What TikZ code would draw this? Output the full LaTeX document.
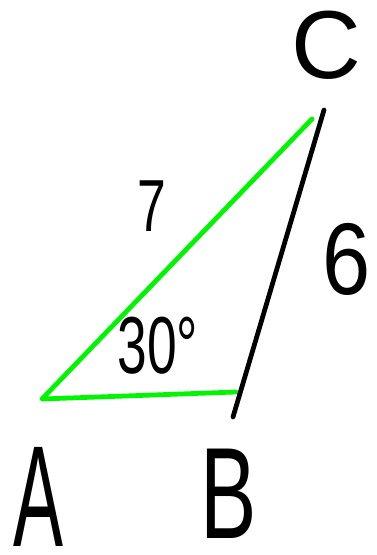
\documentclass[tikz,border=0pt]{standalone}
\usepackage{fontspec}
\setmainfont{Liberation Sans}
\begin{document}
\begin{tikzpicture}[x=0.02cm,y=-0.02cm,line cap=round,line join=round,
		label/.style={inner sep=0pt}]
		\definecolor{penGreen}{RGB}{0,245,0}
		\def\LineW{2.7pt}%线宽
		\useasboundingbox (0,0) rectangle (376,555);
		\coordinate (A) at (42,399);
		\coordinate (B) at (236,392);
		\coordinate (Bend) at (233,417);
		\coordinate (C) at (312,119);
		\coordinate (Ctop) at (324,110);
		\draw[penGreen,line width=\LineW] (B)--(A)--(C);
		\draw[black,line width=\LineW] (Ctop)--(Bend);
		\node[label] (labA) at (38,497) {\fontsize{82}{82}\selectfont\scalebox{0.52}[1]{A}};
		\node[label] (labB) at (229,494) {\fontsize{74}{74}\selectfont\scalebox{0.65}[1]{B}};
		\node[label] (labC) at (326,45) {\fontsize{55}{55}\selectfont C};
		\node[label] (labAC) at (152,206) {\fontsize{42}{42}\selectfont\scalebox{0.7}[1]{7}};
		\node[label] (labBC) at (347,259) {\fontsize{58}{58}\selectfont\scalebox{0.85}[1]{6}};
		\node[label] (labAng) at (158,346) {\fontsize{46}{46}\selectfont\scalebox{0.66}[1]{30°}};
	\end{tikzpicture}
\end{document}
